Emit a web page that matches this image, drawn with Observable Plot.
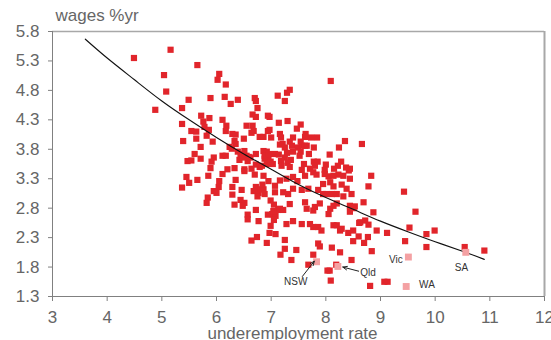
<!DOCTYPE html>
<html><head><meta charset="utf-8">
<script src="https://cdn.jsdelivr.net/npm/d3@7"></script>
<script src="https://cdn.jsdelivr.net/npm/@observablehq/plot@0.6"></script>
<style>body{margin:0;background:#fff} svg{overflow:visible}</style>
</head><body><div id="chart"></div>
<script>
// underemployment rate (x) and wages growth %yr (y), one entry per observation
const underemployment = [
5.16,5.65,5.04,6.05,6.02,6.17,5.08,5.49,5.89,6.15,
6.26,6.39,6.70,6.72,6.75,4.88,5.37,5.72,5.87,6.11,
5.76,5.37,6.18,5.78,5.86,5.54,5.63,6.17,5.82,5.63,
5.93,5.39,6.29,6.35,6.50,6.33,6.35,6.55,6.66,6.66,
6.72,6.68,6.64,6.94,6.97,6.94,6.97,7.00,6.79,6.86,
5.71,5.60,6.24,6.28,6.39,6.44,6.51,6.55,6.59,6.11,
6.17,6.72,6.86,6.92,5.47,5.54,5.71,5.95,5.91,6.42,
6.48,6.57,6.62,6.88,6.95,6.92,6.97,6.72,6.79,6.83,
6.64,5.89,6.20,6.33,6.51,4.49,
8.09,7.12,7.29,7.34,7.25,7.14,7.30,7.54,7.47,7.16,
7.18,7.40,7.63,7.62,7.73,7.84,8.35,8.66,8.24,7.16,
7.21,7.25,7.34,7.38,7.54,7.56,7.49,7.62,7.65,7.78,
6.88,6.96,7.07,7.14,7.29,7.40,7.54,7.52,7.69,8.07,
7.25,7.36,7.18,7.30,7.60,7.78,7.85,7.80,8.00,8.28,
8.22,8.37,8.44,8.15,7.98,7.71,7.56,7.19,7.34,6.99,
7.03,
6.11,5.85,5.45,5.65,5.50,5.37,6.05,6.04,5.95,6.00,
5.84,5.82,6.29,6.29,6.35,6.46,6.51,6.44,6.51,6.48,
6.33,6.70,6.86,6.72,6.68,6.77,6.81,6.86,6.84,6.75,
6.72,6.57,6.57,6.77,6.94,6.74,6.64,6.92,6.97,6.99,
6.99,7.08,7.17,7.05,7.02,7.08,7.05,7.13,
7.07,6.95,7.16,7.28,7.40,7.48,7.62,7.77,7.83,7.98,
8.05,8.14,8.23,8.32,8.42,8.44,7.95,8.08,8.14,8.29,
8.38,8.47,8.78,7.40,7.56,7.68,7.86,7.95,8.01,8.11,
8.20,8.32,6.88,7.07,7.22,7.31,7.16,7.22,7.04,7.34,
7.62,7.65,7.77,7.80,7.89,8.08,8.14,8.05,8.20,8.44,
8.53,8.69,8.87,7.40,7.28,7.56,7.71,7.77,7.86,7.92,
8.14,8.20,8.26,8.29,8.41,8.50,8.63,8.72,8.78,8.93,
9.12,7.25,7.25,7.46,7.37,7.86,7.89,8.11,8.26,8.47,
8.84,8.50,8.60,8.77,7.77,7.68,8.07,8.09,8.81,
9.43,9.64,9.84,9.99,9.45,9.84,10.54,10.90,9.13,9.07,
8.83,8.70,8.19,8.03,8.51,8.44,8.61,9.53
];
const wages = [
5.49,5.23,5.06,5.08,4.98,4.90,4.78,4.64,4.67,4.69,
4.57,4.64,4.67,4.62,4.50,4.47,4.50,4.37,4.33,4.30,
4.27,4.23,4.20,4.18,4.13,4.11,4.10,4.11,4.03,3.98,
3.93,3.94,4.06,4.05,3.98,3.94,3.89,4.20,4.20,4.39,
4.35,4.11,4.08,4.37,4.35,4.11,4.13,4.00,4.01,4.01,
3.84,3.72,3.84,3.81,3.76,3.72,3.77,3.69,3.67,3.69,
3.69,3.72,3.77,3.76,3.60,3.61,3.64,3.66,3.59,3.62,
3.66,3.60,3.66,3.64,3.62,3.55,3.57,3.54,3.50,3.52,
3.47,3.48,3.46,3.48,3.46,5.35,
4.96,4.71,4.76,4.81,4.62,4.25,4.28,4.22,4.15,4.06,
4.00,4.00,4.06,4.01,4.00,4.00,3.94,3.89,3.83,3.88,
3.89,3.83,3.93,3.86,3.93,3.86,3.83,3.86,3.86,3.83,
3.69,3.72,3.72,3.71,3.74,3.76,3.76,3.69,3.72,3.71,
3.66,3.62,3.60,3.57,3.55,3.59,3.59,3.52,3.54,3.59,
3.52,3.49,3.47,3.47,3.45,3.47,3.45,3.52,3.50,3.59,
3.55,
3.38,3.35,3.33,3.28,3.23,3.15,3.26,3.16,3.09,3.06,
2.98,2.89,3.16,3.03,3.28,3.11,3.43,2.94,2.89,2.84,
2.86,3.37,3.35,3.16,3.09,3.06,3.12,3.12,3.20,3.00,
2.77,2.69,2.61,2.58,2.69,2.31,2.25,2.21,2.38,2.50,
2.93,2.36,2.01,2.86,2.70,2.67,2.60,2.77,
3.18,3.26,3.27,3.30,3.33,3.26,3.35,3.41,3.37,3.38,
3.34,3.35,3.37,3.35,3.44,3.30,3.21,3.24,3.17,3.20,
3.13,3.04,3.17,3.13,3.11,3.13,3.11,3.04,3.04,3.04,
3.04,3.00,3.04,3.07,3.07,3.04,2.79,2.77,2.75,2.87,
2.90,2.79,2.76,2.82,2.88,2.79,2.84,2.70,2.88,2.84,
2.83,2.90,2.73,2.58,2.53,2.53,2.53,2.48,2.48,2.42,
2.51,2.51,2.42,2.45,2.38,2.42,2.56,2.59,2.52,2.42,
2.38,2.26,2.11,2.09,1.92,2.20,2.15,2.13,2.05,1.92,
2.07,2.24,2.32,2.31,2.01,1.84,1.74,1.57,1.48,
3.08,2.74,2.36,2.42,2.24,2.14,2.14,2.08,1.55,1.55,
3.35,2.21,1.84,1.74,2.80,2.74,2.55,2.47
];

// Latest state observations
const states = ["NSW", "Qld", "Vic", "WA", "SA"];
const stateUnder = [7.83, 8.22, 9.51, 9.47, 10.56];
const stateWages = [1.89, 1.81, 1.97, 1.47, 2.05];
const labelX = [7.45, 8.77, 9.28, 9.85, 10.48];
const labelY = [1.55, 1.71, 1.92, 1.50, 1.79];

// Arrows for NSW and Qld labels
const arrowFromX = [7.57, 8.60];
const arrowFromY = [1.64, 1.73];
const arrowToX = [7.79, 8.31];
const arrowToY = [1.90, 1.80];

// Fitted trend curve
const trendX = [3.6, 4.0, 4.5, 5.0, 5.5, 6.0, 6.5, 7.0, 7.5, 8.0, 8.5, 9.0, 9.5, 10.0, 10.5, 10.9];
const trendY = [5.67, 5.35, 4.98, 4.62, 4.30, 4.00, 3.72, 3.46, 3.20, 2.98, 2.78, 2.58, 2.40, 2.23, 2.07, 1.93];

const xTicks = [3, 4, 5, 6, 7, 8, 9, 10, 11, 12];
const yTicks = [1.3, 1.8, 2.3, 2.8, 3.3, 3.8, 4.3, 4.8, 5.3, 5.8];

const points = underemployment.map((u, i) => ({u, w: wages[i]}));
const stateData = states.map((s, i) => ({s, u: stateUnder[i], w: stateWages[i], lx: labelX[i], ly: labelY[i]}));
const arrows = arrowFromX.map((x1, i) => ({x1, y1: arrowFromY[i], x2: arrowToX[i], y2: arrowToY[i]}));
const trend = trendX.map((x, i) => ({x, y: trendY[i]}));

const font = "'Liberation Sans', Arial, Helvetica, sans-serif";
const chart = Plot.plot({
  width: 551, height: 340,
  marginLeft: 52, marginRight: 7, marginTop: 31, marginBottom: 44,
  style: {fontFamily: font, fontSize: "17px", color: "#666", background: "#fff"},
  x: {domain: [3, 12]},
  y: {domain: [1.3, 5.8]},
  marks: [
    Plot.ruleY([5.8], {stroke: "#a8a8a8", strokeWidth: 1.5}),
    Plot.ruleX([12], {stroke: "#a8a8a8", strokeWidth: 2}),
    Plot.axisX({ticks: xTicks, tickSize: 5, tickPadding: 9, stroke: "#808080", fill: "#666", label: null, fontSize: 17}),
    Plot.axisY({ticks: yTicks, tickSize: 4, tickPadding: 9, tickFormat: d => d.toFixed(1), stroke: "#808080", fill: "#666", label: null, fontSize: 17}),
    Plot.ruleX([3], {stroke: "#808080"}),
    Plot.ruleY([1.3], {stroke: "#808080"}),
    Plot.dot(points, {x: "u", y: "w", symbol: "square", r: 3.5, fill: "#e1252b", stroke: null}),
    Plot.line(trend, {x: "x", y: "y", curve: "natural", stroke: "#111", strokeWidth: 1.1}),
    Plot.dot(stateData, {x: "u", y: "w", symbol: "square", r: 3.9, fill: "#f4a1a3", stroke: null}),
    Plot.arrow(arrows, {x1: "x1", y1: "y1", x2: "x2", y2: "y2", stroke: "#222", strokeWidth: 1, headLength: 7, headAngle: 45}),
    Plot.text(stateData, {x: "lx", y: "ly", text: "s", fill: "#333", fontSize: 10}),
    Plot.text(["wages %yr"], {frameAnchor: "top-left", lineAnchor: "bottom", dx: 3, dy: -11, textAnchor: "start", fill: "#666", fontSize: 17}),
    Plot.text(["underemployment rate"], {frameAnchor: "bottom", lineAnchor: "bottom", dx: -6, dy: 42, textAnchor: "middle", fill: "#666", fontSize: 17})
  ]
});
document.getElementById("chart").append(chart);
</script>
</body></html>
